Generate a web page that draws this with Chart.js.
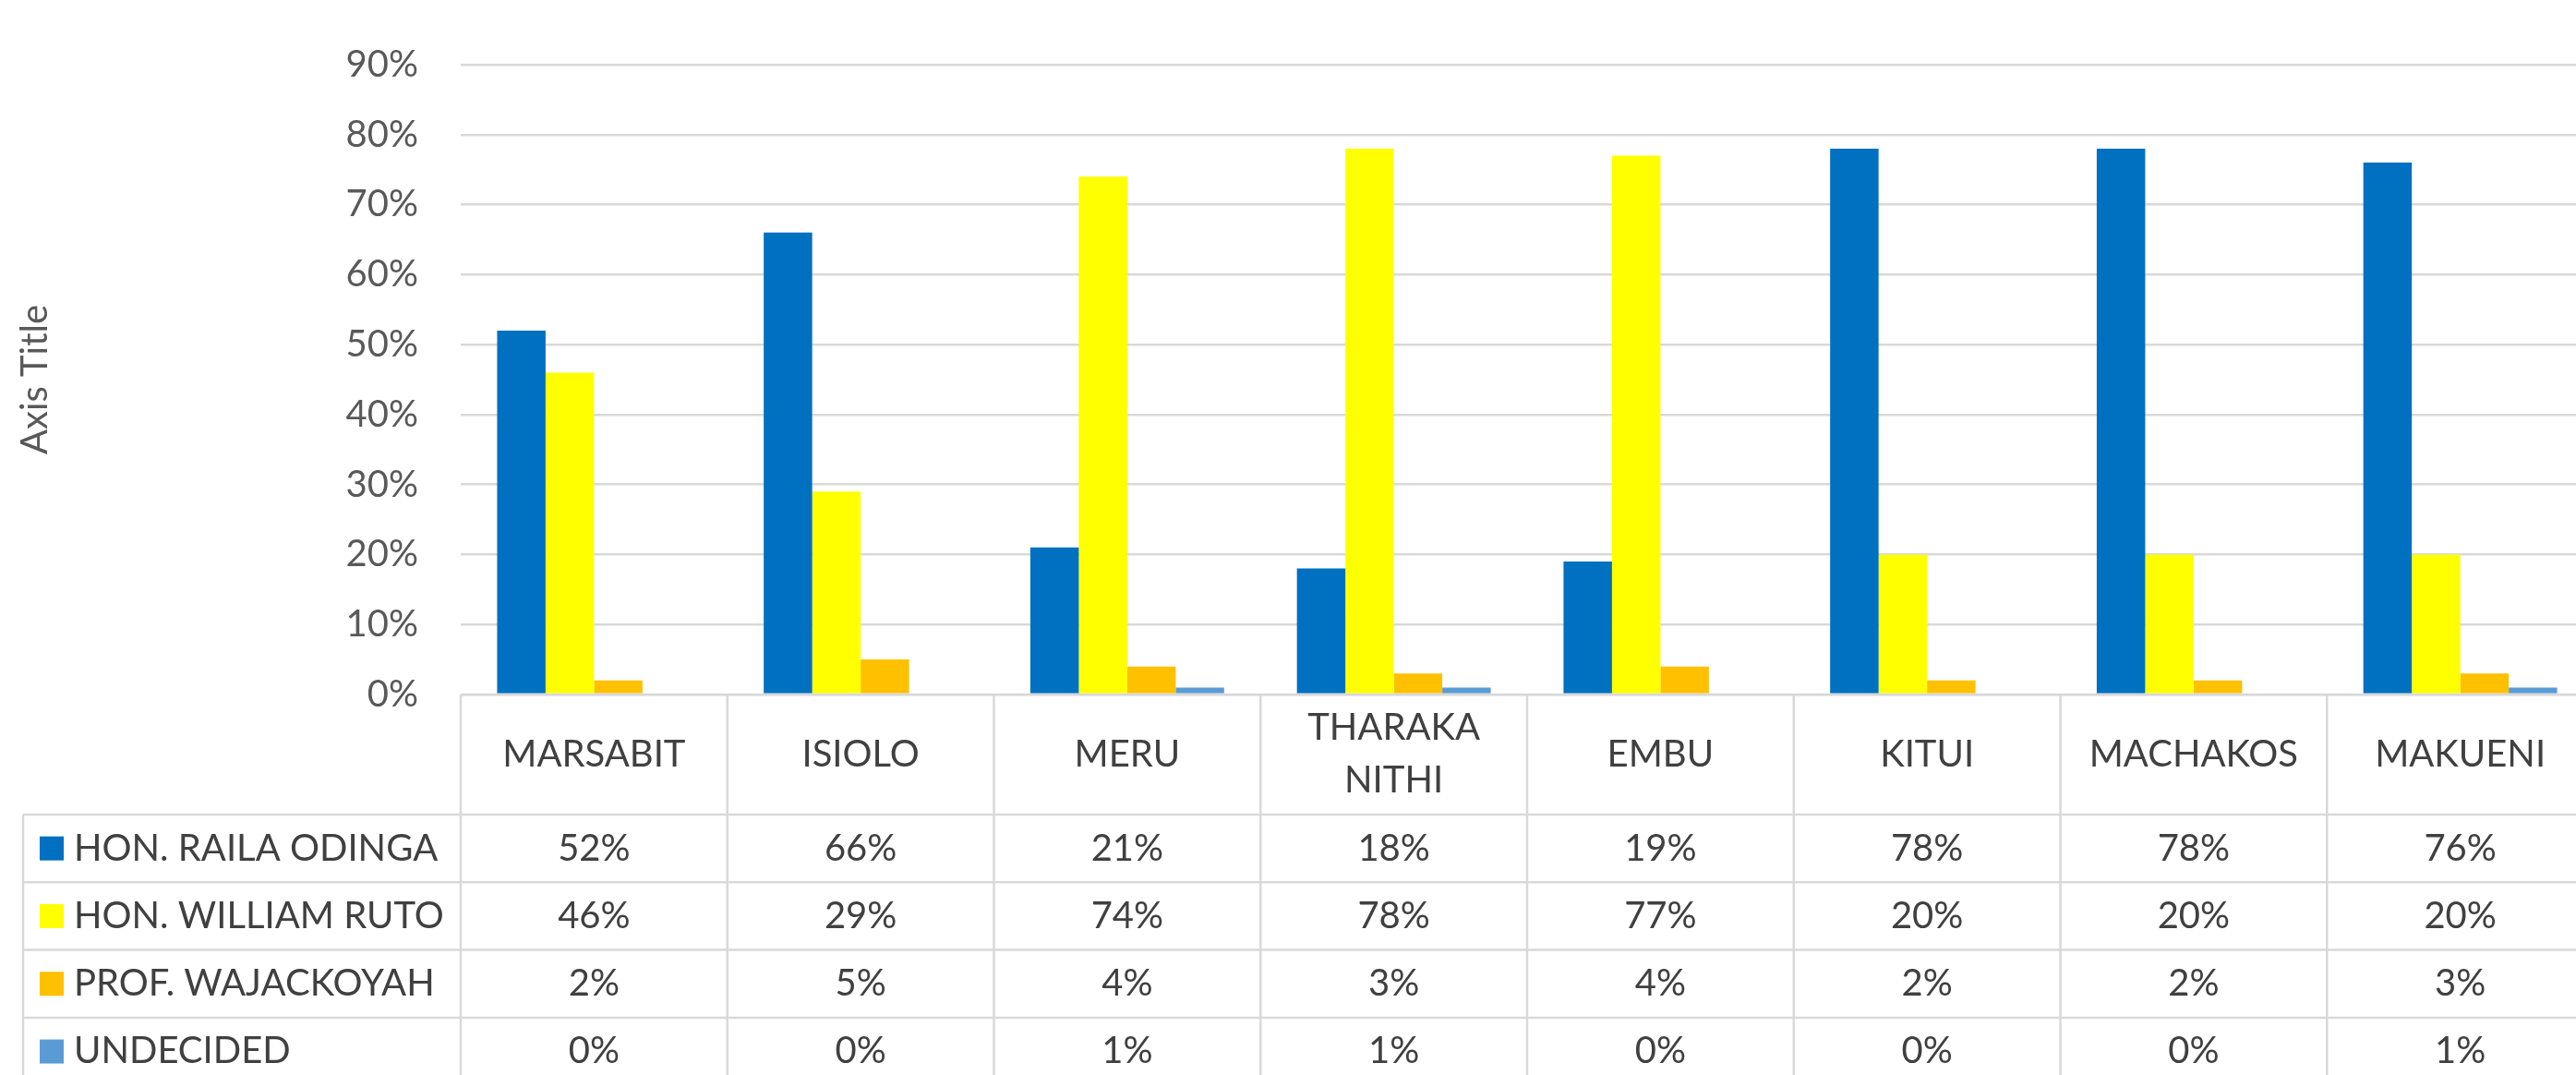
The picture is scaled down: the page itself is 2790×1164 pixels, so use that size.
<!DOCTYPE html>
<html>
<head>
<meta charset="utf-8">
<script src="https://cdn.jsdelivr.net/npm/chart.js@4.4.1/dist/chart.umd.min.js"></script>
<style>
  html, body { margin: 0; padding: 0; background: #fff; overflow: hidden; }
  canvas { display: block; }
</style>
</head>
<body>
<canvas id="chart" width="2815" height="1164"></canvas>
<script>
// Opinion poll by county, percentages.
const counties = ['MARSABIT', 'ISIOLO', 'MERU', 'THARAKA NITHI', 'EMBU', 'KITUI', 'MACHAKOS', 'MAKUENI'];
const raila = [52, 66, 21, 18, 19, 78, 78, 76];
const ruto = [46, 29, 74, 78, 77, 20, 20, 20];
const wajackoyah = [2, 5, 4, 3, 4, 2, 2, 3];
const undecided = [0, 0, 1, 1, 0, 0, 0, 1];
const seriesNames = ['HON. RAILA ODINGA', 'HON. WILLIAM RUTO', 'PROF. WAJACKOYAH', 'UNDECIDED'];
const seriesColors = ['#0070c0', '#ffff00', '#ffc000', '#5b9bd5'];
const yMax = 90;
const yStep = 10;

const INK = '#404040';
const TICK_INK = '#595959';
const LINE = '#d9d9d9';
const FONT = 'Lato';

// Excel-style data table under the plot, columns taken from the x scale.
const dataTable = {
  id: 'dataTable',
  afterDraw(chart) {
    const { ctx, chartArea: area, scales: { x } } = chart;
    const sets = chart.data.datasets;
    const n = chart.data.labels.length;
    const colW = x.width / n;
    const top = area.bottom;
    const headH = 130;
    const rowH = 73.3;
    const headBottom = top + headH;
    const bottom = headBottom + sets.length * rowH;
    const left = 25;

    ctx.save();
    ctx.strokeStyle = LINE;
    ctx.lineWidth = 2.5;
    ctx.beginPath();
    ctx.moveTo(area.left, top);
    ctx.lineTo(area.right, top);
    for (let r = 0; r <= sets.length; r++) {
      const y = headBottom + r * rowH;
      ctx.moveTo(left, y);
      ctx.lineTo(area.right, y);
    }
    ctx.moveTo(left, headBottom);
    ctx.lineTo(left, bottom);
    for (let i = 0; i < n; i++) {
      const edge = x.getPixelForValue(i) - colW / 2;
      ctx.moveTo(edge, top);
      ctx.lineTo(edge, bottom);
    }
    ctx.moveTo(area.right, top);
    ctx.lineTo(area.right, bottom);
    ctx.stroke();

    ctx.fillStyle = INK;
    ctx.font = `40px ${FONT}`;
    ctx.textAlign = 'center';
    ctx.textBaseline = 'middle';

    // header row: county names, wrapped when wider than the column
    chart.data.labels.forEach((label, i) => {
      const cx = x.getPixelForValue(i);
      const cy = top + headH / 2;
      if (ctx.measureText(label).width > colW - 24) {
        const words = label.split(' ');
        const lh = 57;
        words.forEach((w, k) => {
          ctx.fillText(w, cx, cy + (k - (words.length - 1) / 2) * lh);
        });
      } else {
        ctx.fillText(label, cx, cy);
      }
    });

    // one row per series: legend key, name, values
    sets.forEach((ds, r) => {
      const cy = headBottom + r * rowH + rowH / 2;
      ctx.fillStyle = ds.backgroundColor;
      ctx.fillRect(43, cy - 13, 26, 26);
      ctx.fillStyle = INK;
      ctx.textAlign = 'left';
      ctx.fillText(ds.label, 80, cy);
      ctx.textAlign = 'center';
      ds.data.forEach((v, i) => {
        ctx.fillText(v + '%', x.getPixelForValue(i), cy);
      });
    });
    ctx.restore();
  },
};

function draw() {
  Chart.defaults.font.family = FONT;
  new Chart(document.getElementById('chart'), {
    type: 'bar',
    data: {
      labels: counties,
      datasets: [raila, ruto, wajackoyah, undecided].map((data, i) => ({
        label: seriesNames[i],
        data,
        backgroundColor: seriesColors[i],
        borderWidth: 0,
        categoryPercentage: 0.727,
        barPercentage: 1,
      })),
    },
    options: {
      responsive: false,
      animation: false,
      devicePixelRatio: 1,
      layout: { padding: { left: 0, right: 6, top: 38, bottom: 412 } },
      plugins: {
        legend: { display: false },
        tooltip: { enabled: false },
      },
      scales: {
        x: { display: false },
        y: {
          min: 0,
          max: yMax,
          afterFit: (scale) => { scale.width = 499; },
          ticks: {
            stepSize: yStep,
            padding: 46,
            color: TICK_INK,
            font: { size: 40 },
            callback: (v) => v + '%',
          },
          grid: { color: LINE, lineWidth: 2.5, drawTicks: false },
          border: { display: false },
          title: {
            display: true,
            text: 'Axis Title',
            color: TICK_INK,
            font: { size: 40 },
            padding: { top: 14, bottom: 0 },
          },
        },
      },
    },
    plugins: [dataTable],
  });
}

document.fonts.load(`40px ${FONT}`).then(draw, draw);
</script>
</body>
</html>
